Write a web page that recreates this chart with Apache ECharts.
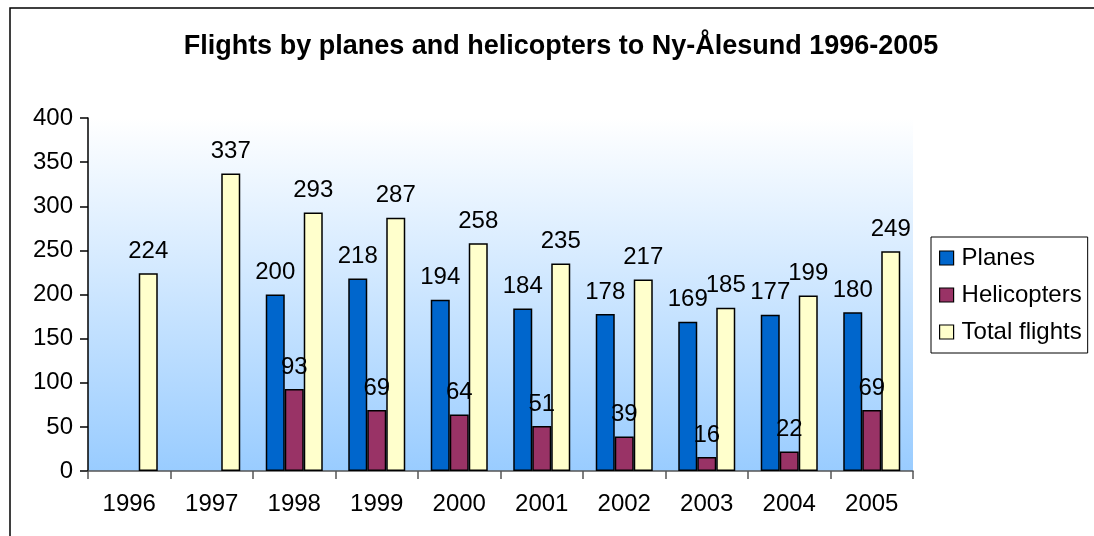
<!DOCTYPE html>
<html><head><meta charset="utf-8">
<script src="https://cdn.jsdelivr.net/npm/echarts@6/dist/echarts.min.js"></script>
<style>html,body{margin:0;padding:0;background:#fff}#c{width:1094px;height:536px}</style>
</head><body><div id="c"></div>
<script>
const categories = ['1996','1997','1998','1999','2000','2001','2002','2003','2004','2005'];
const planes = [null,null,200,218,194,184,178,169,177,180];
const helicopters = [null,null,93,69,64,51,39,16,22,69];
const totalFlights = [224,337,293,287,258,235,217,185,199,249];
const yTicks = [0,50,100,150,200,250,300,350,400];

const FONT = 'Liberation Sans, Arial, sans-serif';
const chart = echarts.init(document.getElementById('c'));
const lbl = {show:true, position:'top', distance:10, color:'#000', fontSize:24, fontFamily:FONT};
const mk = (name, data, color) => ({
  name, type:'bar', data, barWidth:19, barGap:'0%', barCategoryGap:'31%',
  itemStyle:{color, borderColor:'#000', borderWidth:1.5},
  label:lbl
});
chart.setOption({
  animation:false,
  textStyle:{fontFamily:FONT},
  title:{text:'Flights by planes and helicopters to Ny-Ålesund 1996-2005', left:556, textAlign:'center', top:28,
    textStyle:{fontSize:27, fontWeight:'bold', color:'#000', fontFamily:FONT}},
  graphic:[{type:'rect', shape:{x:10, y:8, width:1200, height:700}, style:{fill:null, stroke:'#000', lineWidth:1.5}, silent:true}],
  legend:{orient:'vertical', left:931, top:237, padding:[9,6,9,8], itemGap:13, itemWidth:14, itemHeight:14,
    borderColor:'#000', borderWidth:1, backgroundColor:'#fff',
    textStyle:{fontSize:24, color:'#000', fontFamily:FONT, padding:[0,0,0,3]},
    itemStyle:{borderColor:'#000', borderWidth:1.2},
    data:[{name:'Planes', icon:'rect'},{name:'Helicopters', icon:'rect'},{name:'Total flights', icon:'rect'}]},
  grid:{left:88, right:181, top:118, bottom:65, show:true, borderWidth:0,
    backgroundColor:new echarts.graphic.LinearGradient(0,0,0,1,[{offset:0,color:'#ffffff'},{offset:1,color:'#99ccff'}])},
  xAxis:{type:'category', data:categories,
    axisLine:{lineStyle:{color:'#555', width:1.5}},
    axisTick:{show:true, length:8, lineStyle:{color:'#555', width:1.5}},
    axisLabel:{color:'#000', fontSize:24, margin:21, fontFamily:FONT}},
  yAxis:{type:'value', min:0, max:400, interval:50,
    axisLine:{show:true, lineStyle:{color:'#000', width:1.5}},
    axisTick:{show:true, length:8, lineStyle:{color:'#000', width:1.5}},
    splitLine:{show:false},
    axisLabel:{color:'#000', fontSize:24, margin:15, fontFamily:FONT,
      formatter:v=>yTicks.includes(v)?String(v):''}},
  series:[mk('Planes',planes,'#0066cc'), mk('Helicopters',helicopters,'#993366'), mk('Total flights',totalFlights,'#ffffcc')]
});
</script></body></html>
